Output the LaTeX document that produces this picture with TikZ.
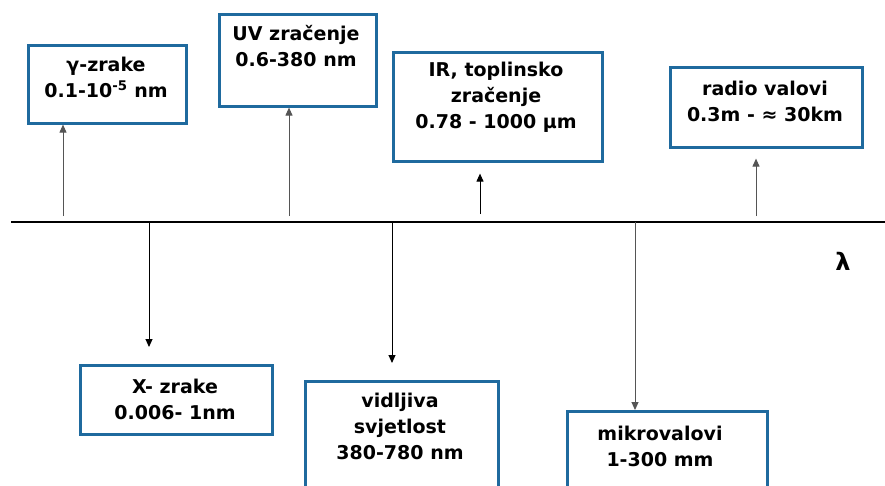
\documentclass[tikz,border=0pt]{standalone}
\usepackage{fontspec}
\setmainfont{DejaVu Sans}
\usetikzlibrary{arrows.meta}
\definecolor{boxblue}{HTML}{1F6A9E}
\definecolor{arrgray}{HTML}{555555}
\tikzset{
  specbox/.style={draw=boxblue, line width=2.6pt, rectangle, inner sep=0pt, anchor=north west},
  spectext/.style={align=center, font=\fontsize{19}{26}\selectfont\bfseries, inner sep=0pt, text=black},
  arr/.style={line width=1pt, -{Triangle[length=8pt,width=7pt]}},
  axisline/.style={line width=2.4pt, black}
}
\begin{document}
\begin{tikzpicture}[x=1pt,y=-1pt]
\clip (0,0) rectangle (885,485);
\fill[white] (0,0) rectangle (885,485);

% axis
\coordinate (axL) at (11,222);
\coordinate (axR) at (885,222);
\draw[axisline] (axL) -- (axR);
\node[spectext, font=\fontsize{24}{26}\selectfont\bfseries] (lam) at (843,261) {λ};

% boxes
\node[specbox, minimum width=158pt, minimum height=78pt] (gbox) at (27,44) {};
\node[specbox, minimum width=157pt, minimum height=92pt] (uvbox) at (218,13) {};
\node[specbox, minimum width=209pt, minimum height=109pt] (irbox) at (392,51) {};
\node[specbox, minimum width=192pt, minimum height=80pt] (rbox) at (669,66) {};
\node[specbox, minimum width=192pt, minimum height=69pt] (xbox) at (79,364) {};
\node[specbox, minimum width=193pt, minimum height=130pt] (vbox) at (304,380) {};
\node[specbox, minimum width=200pt, minimum height=100pt] (mbox) at (566,410) {};

% texts
\node[spectext] (gtext) at (106,77) {γ-zrake\\0.1-10\textsuperscript{-5} nm};
\node[spectext] (uvtext) at (296,46) {UV zračenje\\0.6-380 nm};
\node[spectext] (irtext) at (496,97) {IR, toplinsko\\zračenje\\0.78 - 1000 μm};
\node[spectext] (rtext) at (765,101) {radio valovi\\0.3m - ≈ 30km};
\node[spectext] (xtext) at (175,399) {X- zrake\\0.006- 1nm};
\node[spectext] (vtext) at (400,426) {vidljiva\\svjetlost\\380-780 nm};
\node[spectext] (mtext) at (660,446) {mikrovalovi\\1-300 mm};

% arrow start points on the axis
\coordinate (sg) at (63,216);
\coordinate (suv) at (289,216);
\coordinate (sir) at (480,214);
\coordinate (sr) at (756,216);
\coordinate (sx) at (149,222);
\coordinate (sv) at (392,222);
\coordinate (sm) at (635,222);

\draw[arr, arrgray] (sg) -- (sg |- gbox.south);
\draw[arr, arrgray] (suv) -- (suv |- uvbox.south);
\draw[arr, black, shorten >=11pt] (sir) -- (sir |- irbox.south);
\draw[arr, arrgray, shorten >=10pt] (sr) -- (sr |- rbox.south);
\draw[arr, black, shorten >=17pt] (sx) -- (sx |- xbox.north);
\draw[arr, black, shorten >=17pt] (sv) -- (sv |- vbox.north);
\draw[arr, arrgray] (sm) -- (sm |- mbox.north);
\end{tikzpicture}
\end{document}
